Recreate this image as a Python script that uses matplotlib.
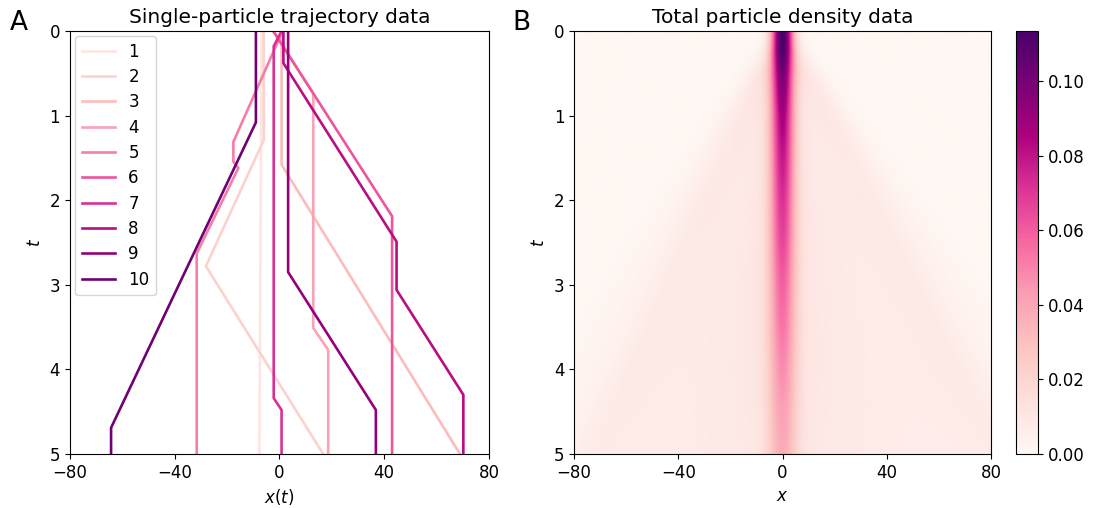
import numpy as np
import matplotlib
matplotlib.use("Agg")
import matplotlib.pyplot as plt

plt.rcParams.update({
    "font.family": "DejaVu Sans",
    "font.size": 12,
})

# ---- panel A: single-particle trajectories, breakpoints (t, x)
traj_t = [
    [0, 5],
    [0, 1.29, 2.78, 5],
    [0, 1.58, 5],
    [0, 0.74, 3.51, 3.77, 5],
    [0, 1.31, 1.545, 1.62, 2.63, 5],
    [0, 2.19, 5],
    [0, 0.18, 4.34, 4.48, 5],
    [0, 0.38, 2.49, 3.06, 4.30, 5],
    [0, 2.85, 4.48, 5],
    [0, 1.08, 4.69, 5],
]
traj_x = [
    [-6.8, -7.7],
    [-6.0, -6.0, -28.1, 16.7],
    [0.8, 0.8, 68.9],
    [-2.4, 12.9, 12.9, 18.6, 18.6],
    [1.2, -17.6, -17.6, -15.7, -31.6, -31.6],
    [-2.4, 43.0, 43.0],
    [0.8, -2.2, -2.2, 0.8, 0.8],
    [1.5, 1.5, 44.7, 44.7, 70.2, 70.2],
    [3.3, 3.3, 36.8, 36.8],
    [-9.0, -9.0, -64.3, -64.3],
]
traj_labels = [str(i) for i in range(1, 11)]

# ---- panel B: total density, profile parameters read per time row
dens_t = [0.0, 0.25, 0.5, 1.0, 1.5, 2.0, 2.5, 3.0, 3.5, 4.0, 4.5, 5.0]
core_peak = [0.1135, 0.103, 0.090, 0.076, 0.068, 0.061, 0.055, 0.048, 0.043, 0.037, 0.032, 0.028]
core_width = [3.0, 3.0, 3.1, 3.2, 3.3, 3.4, 3.5, 3.6, 3.7, 3.8, 3.9, 4.0]
ridge_peak = [0.0, 0.005, 0.007, 0.006, 0.005, 0.0045, 0.004, 0.0035, 0.003, 0.0028, 0.0025, 0.0022]
fan_level = [0.0, 0.002, 0.004, 0.005, 0.0055, 0.006, 0.006, 0.006, 0.006, 0.006, 0.0058, 0.0055]
halo_peak = [0.0, 0.004, 0.006, 0.006, 0.0055, 0.005, 0.005, 0.0048, 0.0046, 0.0044, 0.0042, 0.004]
speed_left = 16.0
speed_right = 18.5
vmax = 0.1135

fig = plt.figure(figsize=(10.93, 5.08), dpi=100)
ax1 = fig.add_axes([0.064, 0.1063, 0.3834, 0.8327])
ax2 = fig.add_axes([0.5252, 0.1063, 0.3815, 0.8327])
cax = fig.add_axes([0.9296, 0.1063, 0.0201, 0.8327])

colors = plt.cm.RdPu(np.linspace(0.1, 0.9, 10))
for t, x, c, lab in zip(traj_t, traj_x, colors, traj_labels):
    ax1.plot(x, t, color=c, lw=1.9, label=lab)
ax1.set_xlim(-80, 80)
ax1.set_ylim(5, 0)
ax1.set_xticks([-80, -40, 0, 40, 80])
ax1.set_yticks([0, 1, 2, 3, 4, 5])
ax1.set_xlabel("$x(t)$")
ax1.set_ylabel("$t$")
ax1.set_title("Single-particle trajectory data", fontsize=14.5)
ax1.legend(loc="upper left", fontsize=12.0, borderaxespad=0.3, labelspacing=0.44)

# density field built from the row parameters above
xg = np.linspace(-80, 80, 801)
tg = np.linspace(0, 5, 501)
X, T = np.meshgrid(xg, tg)
A = np.interp(tg, dens_t, core_peak)[:, None]
S = np.interp(tg, dens_t, core_width)[:, None]
R = np.interp(tg, dens_t, ridge_peak)[:, None]
F = np.interp(tg, dens_t, fan_level)[:, None]
H = np.interp(tg, dens_t, halo_peak)[:, None]
xl = -speed_left * T
xr = speed_right * T
w = 3.0 + 2.5 * T
rho = A * np.exp(-X**2 / (2 * S**2))
rho += H * np.exp(-X**2 / (2 * (4.0 + 4.0 * T)**2))
rho += R * (np.exp(-(X - xl)**2 / (2 * w**2)) + np.exp(-(X - xr)**2 / (2 * w**2)))
inside = 1 / (1 + np.exp(-(X - xl) / 3.0)) * 1 / (1 + np.exp((X - xr) / 3.0))
rho += F * inside

im = ax2.imshow(rho, extent=[-80, 80, 5, 0], aspect="auto", cmap="RdPu",
                vmin=0, vmax=vmax, interpolation="bilinear")
ax2.set_xticks([-80, -40, 0, 40, 80])
ax2.set_yticks([0, 1, 2, 3, 4, 5])
ax2.set_xlabel("$x$")
ax2.set_ylabel("$t$")
ax2.set_title("Total particle density data", fontsize=14.5)
cb = fig.colorbar(im, cax=cax)
cb.set_ticks([0, 0.02, 0.04, 0.06, 0.08, 0.10])
cb.set_ticklabels(["0.00", "0.02", "0.04", "0.06", "0.08", "0.10"])

fig.text(0.009, 0.955, "A", fontsize=19, va="center", ha="left")
fig.text(0.469, 0.955, "B", fontsize=19, va="center", ha="left")

fig.savefig("out.png", dpi=100)
